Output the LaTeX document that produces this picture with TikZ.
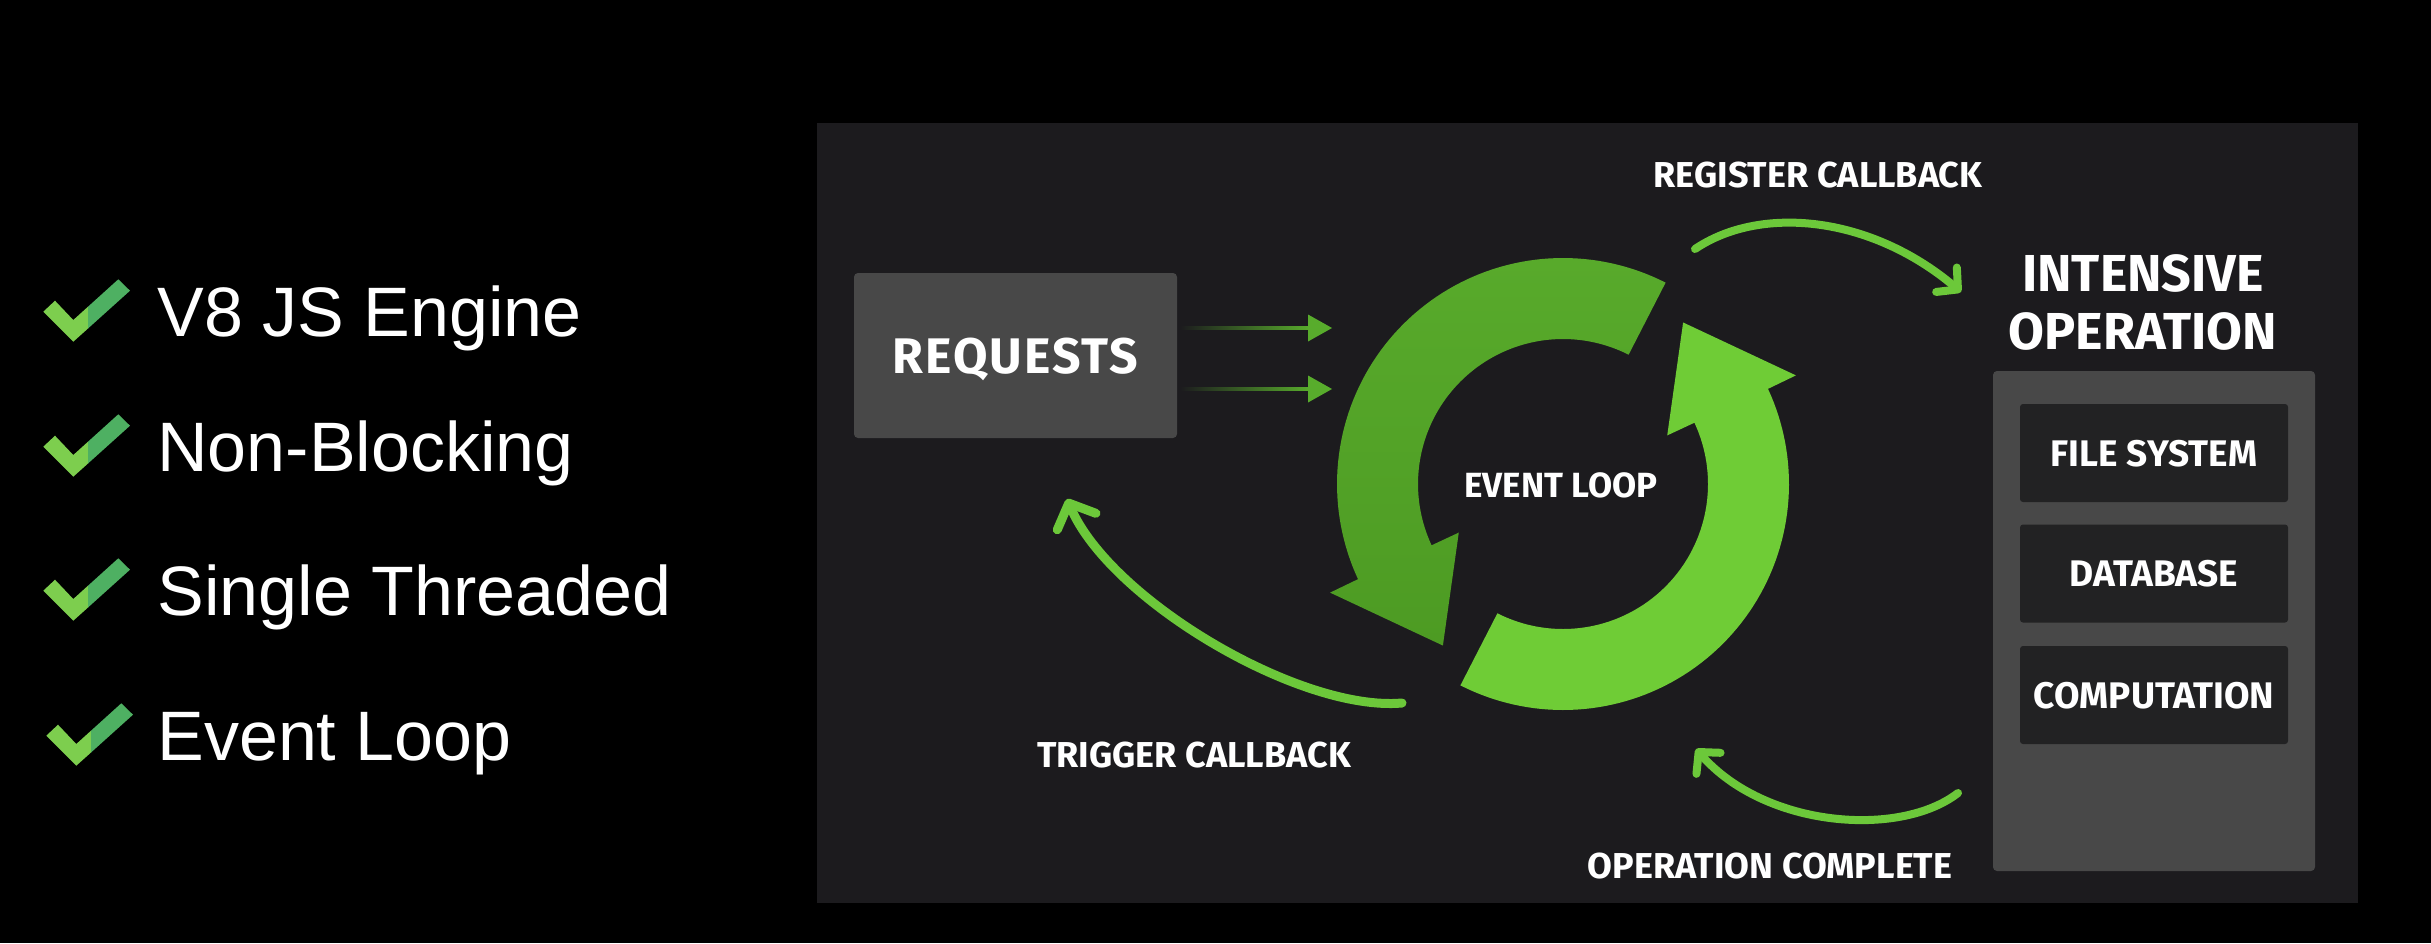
\documentclass[tikz,border=0pt]{standalone}
\usepackage{fontspec}
\setmainfont{Liberation Sans}
\newfontfamily\labelfont{Fira Sans}
\usetikzlibrary{arrows.meta,calc}

\definecolor{panelbg}{HTML}{1C1B1E}
\definecolor{boxgray}{HTML}{484848}
\definecolor{cellbg}{HTML}{222223}
\definecolor{ringdarkA}{HTML}{58AA2B}
\definecolor{ringdarkB}{HTML}{4D9B23}
\definecolor{ringlight}{HTML}{6FCC36}
\definecolor{cbgreen}{HTML}{6CC83A}
\definecolor{reqgreen}{HTML}{58AC2C}
\definecolor{ticklight}{HTML}{7DCE4E}
\definecolor{tickdark}{HTML}{4EB062}

% curved block arrow of the event loop ring
% #1 = paint options, #2 = tail angle, #3 = angle of the head base
\newcommand\ringarrow[3]{%
  \path[#1]
    plot[domain=0:1,samples=80] ({1563+226*cos((#2)+((#3)-(#2))*\x)},{484+226*sin((#2)+((#3)-(#2))*\x)})
    -- ($(c)+(#3:257)$)
    -- ($(c)+(#3:185.5)+({#3-95}:96)$)
    -- ($(c)+(#3:115)$)
    -- plot[domain=0:1,samples=80] ({1563+145*cos((#3)+((#2)-(#3))*\x)},{484+145*sin((#3)+((#2)-(#3))*\x)})
    -- cycle;}

\begin{document}
\begin{tikzpicture}[x=0.5pt,y=-0.5pt,
  item/.style={text=white, font=\fontsize{35}{40}\selectfont, inner sep=0pt, anchor=base west},
  lbl/.style={text=white, font=\labelfont\bfseries\fontsize{18}{21}\selectfont, inner sep=0pt, anchor=base},
  titlelbl/.style={text=white, font=\labelfont\bfseries\fontsize{26}{29}\selectfont, inner sep=0pt, anchor=base},
  reqbox/.style={fill=boxgray, rounded corners=2pt, minimum width=161.5pt, minimum height=82.5pt,
    text=white, font=\labelfont\bfseries\fontsize{25}{28}\selectfont\addfontfeature{LetterSpace=4},
    text depth=0pt, inner sep=0pt},
  opsbox/.style={fill=boxgray, rounded corners=2pt, minimum width=161pt, minimum height=250pt, inner sep=0pt},
  cellbox/.style={fill=cellbg, rounded corners=1.5pt, minimum width=134pt, minimum height=49pt,
    text=white, font=\labelfont\bfseries\fontsize{18.5}{21}\selectfont, text depth=0pt, inner sep=0pt},
  cbarrow/.style={draw=cbgreen, line width=4pt, line cap=round,
    -{Straight Barb[length=7.5pt,width=16pt,round]}},
  tickmark/.pic={
    \fill[ticklight] (-29.7,-0.3) -- (-18,-11.3) -- (0.3,8) -- (15,-5.3) -- (15,16.5) -- (0.3,29.7) -- cycle;
    \fill[tickdark] (15,-5.3) -- (45.3,-32.7) -- (57,-21.3) -- (15,16.5) -- cycle;
  }]

% page and panel
\fill[black] (0,0) rectangle (2431,943);
\useasboundingbox (0,0) rectangle (2431,943);
\fill[panelbg] (817,123) rectangle (2358,903);

% feature list
\pic at (73,312) {tickmark};
\pic at (73,447) {tickmark};
\pic at (73,591) {tickmark};
\pic at (76,736) {tickmark};
\node[item] (f1) at (157,336) {V8 JS Engine};
\node[item] (f2) at (157,471) {Non-Blocking};
\node[item] (f3) at (157,615) {Single Threaded};
\node[item] (f4) at (157,760) {Event Loop};

% requests
\node[reqbox] (req) at (1015.5,355.5) {REQUESTS};
\coordinate (r1a) at (1180,328);
\coordinate (r1b) at (1332,328);
\coordinate (r2a) at (1180,389);
\coordinate (r2b) at (1332,389);
\shade[left color=panelbg, right color=reqgreen] ($(r1a)+(0,-1.7)$) rectangle ($(r1b)+(-22,1.7)$);
\fill[reqgreen] ($(r1b)+(-24,-13.5)$) -- (r1b) -- ($(r1b)+(-24,13.5)$) -- cycle;
\shade[left color=panelbg, right color=reqgreen] ($(r2a)+(0,-1.7)$) rectangle ($(r2b)+(-22,1.7)$);
\fill[reqgreen] ($(r2b)+(-24,-13.5)$) -- (r2b) -- ($(r2b)+(-24,13.5)$) -- cycle;

% event loop ring
\coordinate (c) at (1563,484);
\ringarrow{shade, top color=ringdarkA, bottom color=ringdarkB}{-63}{-205}
\ringarrow{fill=ringlight}{117}{-25}
\node[lbl, font=\labelfont\bfseries\fontsize{17.5}{21}\selectfont] (loop) at (1561,497) {EVENT LOOP};

% intensive operation column
\node[titlelbl] (io1) at (2143,291) {INTENSIVE};
\node[titlelbl] (io2) at (2143,349) {OPERATION};
\node[opsbox] (ops) at (2154,621) {};
\node[cellbox] (fs) at (2154,453) {FILE SYSTEM};
\node[cellbox] (db) at (2154,573.5) {DATABASE};
\node[cellbox] (cp) at (2154,695) {COMPUTATION};

% callback arrows and their labels
\node[lbl] (regl) at (1818,187) {REGISTER CALLBACK};
\node[lbl] (trgl) at (1194,767) {TRIGGER CALLBACK};
\node[lbl] (opcl) at (1770,878) {OPERATION COMPLETE};

\coordinate (regA) at (1695,249);
\coordinate (regB) at (1961,292);
\draw[cbarrow] (regA) .. controls (1760,205) and (1870,215) .. (regB);

\coordinate (opcA) at (1958,793);
\coordinate (opcB) at (1696,749);
\draw[cbarrow] (opcA) .. controls (1900,838) and (1765,828) .. (opcB);

\coordinate (trgA) at (1402,703);
\coordinate (trgB) at (1067,499);
\draw[cbarrow, line width=4.5pt, -{Straight Barb[length=10pt,width=21pt,round]}]
  (trgA) .. controls (1300,712) and (1110,600) .. (trgB);
\end{tikzpicture}
\end{document}
